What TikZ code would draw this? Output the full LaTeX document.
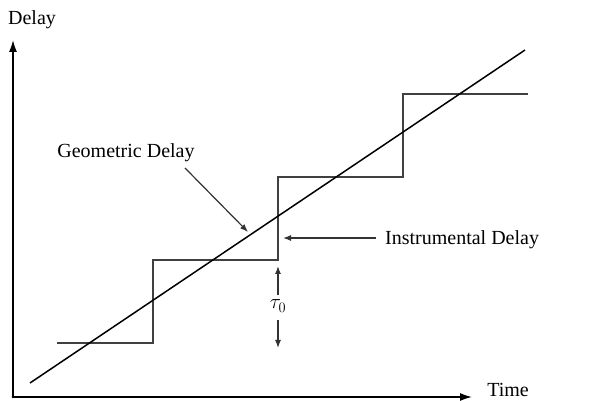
\documentclass[tikz,border=0pt]{standalone}
\usepackage{fontspec}
\setmainfont{Liberation Serif}
\usetikzlibrary{arrows.meta}
\begin{document}
\begin{tikzpicture}[x=1pt, y=1pt, font=\fontsize{20}{24}\selectfont,
  axis/.style={line width=1.6pt, -{Latex[length=12pt, width=8pt]}},
  stairs/.style={line width=2pt, draw=black!75, line join=miter},
  pointer/.style={line width=1.2pt, draw=black!80, -{Latex[length=8pt, width=6pt]}},
  every node/.style={inner sep=0pt}]
  \useasboundingbox (0,0) rectangle (597,401);
  \coordinate (origin) at (13,4);
  \coordinate (ytip) at (13,361);
  \coordinate (xtip) at (472,4);
  \draw[axis] (origin) -- (ytip);
  \draw[axis] (origin) -- (xtip);
  \fill (origin) circle (1.5pt);
  \node (ylabel) at (32,381) {Delay};
  \node (xlabel) at (508,11) {Time};
  \draw[stairs] (57,58) -- (153,58) -- (153,141) -- (278,141) -- (278,224)
    -- (403,224) -- (403,307) -- (528,307);
  \coordinate (gstart) at (30,18);
  \coordinate (gend) at (525,351);
  \draw[line width=1.5pt] (gstart) -- (gend);
  \node (geo) at (126,248) {Geometric Delay};
  \coordinate (geotail) at (185,233);
  \coordinate (geohead) at (248,169);
  \draw[pointer] (geotail) -- (geohead);
  \node[anchor=west] (instr) at (385,161) {Instrumental Delay};
  \coordinate (insttail) at (376,163);
  \coordinate (insthead) at (283,163);
  \draw[pointer] (insttail) -- (insthead);
  \node (tau) at (278,95) {$\tau_0$};
  \coordinate (upend) at (278,135);
  \coordinate (downend) at (278,53);
  \draw[pointer] (tau.north) ++(0,5) -- (upend);
  \draw[pointer] (tau.south) ++(0,-8) -- (downend);
\end{tikzpicture}
\end{document}
